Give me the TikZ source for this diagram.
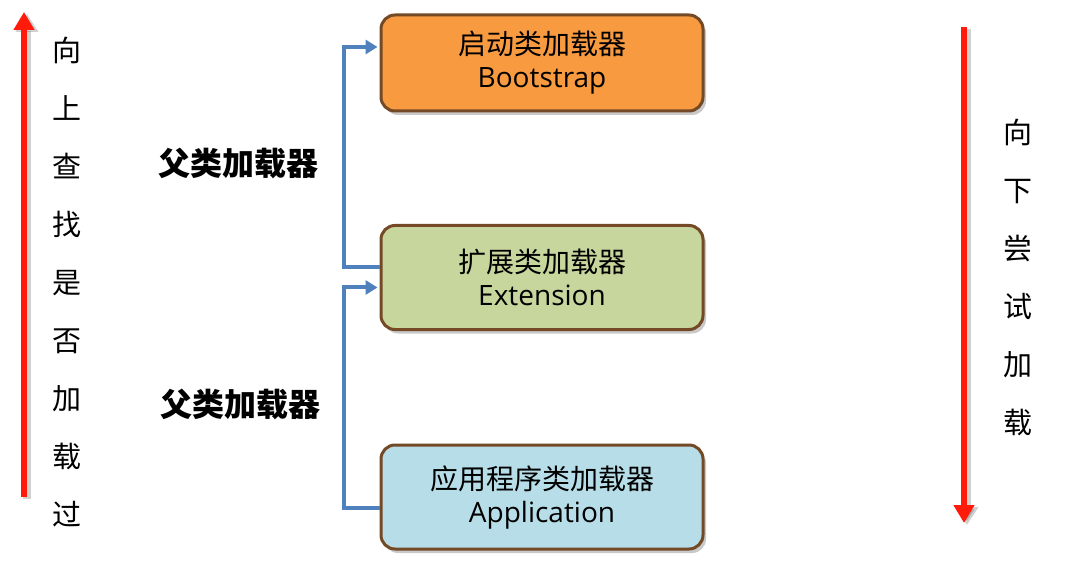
\documentclass[tikz,border=0pt]{standalone}
\usepackage{fontspec}
\setmainfont{Open Sans}
\newfontfamily\cjk{Noto Sans CJK SC}
\usetikzlibrary{arrows.meta,shadows}
\definecolor{bootfill}{HTML}{F79A40}
\definecolor{extfill}{HTML}{C6D69C}
\definecolor{appfill}{HTML}{B7DDE8}
\definecolor{boxborder}{HTML}{744A26}
\definecolor{connblue}{HTML}{4F81BD}
\definecolor{arrowred}{HTML}{FF1A0A}
\tikzset{
  loader/.style={draw=boxborder, line width=3pt, rounded corners=14pt,
    minimum width=322pt, minimum height=96pt, align=center,
    font=\fontsize{28}{33}\selectfont,
    drop shadow={shadow xshift=3pt, shadow yshift=-4pt, opacity=0.35, fill=black!60}},
  conn/.style={draw=connblue, line width=4pt, -{Triangle[length=12pt,width=14pt]}},
  redarrow/.style={draw=arrowred, line width=6pt, -{Triangle[length=18pt,width=20pt]}},
  redshadow/.style={draw=black, opacity=0.18, line width=8pt, -{Triangle[length=18pt,width=22pt]}},
  vtext/.style={align=center, font=\cjk\fontsize{29}{58}\selectfont},
  parentlabel/.style={font=\cjk\bfseries\fontsize{32}{36}\selectfont}
}
\begin{document}
\begin{tikzpicture}[x=1pt,y=-1pt]
\path[use as bounding box, fill=white] (0,0) rectangle (1084,561);

% boxes
\node[loader, fill=bootfill] (boot) at (542,63) {{\cjk 启动类加载器}\\Bootstrap};
\node[loader, fill=extfill, minimum height=104pt] (ext) at (542,277.5) {{\cjk 扩展类加载器}\\Extension};
\node[loader, fill=appfill, minimum height=104pt] (app) at (542,497) {{\cjk 应用程序类加载器}\\Application};

% connectors
\coordinate (c1) at (344,0);
\draw[conn] ([yshift=10pt]ext.west) -- ([yshift=10pt]ext.west -| c1) |- ([xshift=-2pt,yshift=16pt]boot.west);
\draw[conn] ([yshift=-11pt]app.west) -- ([yshift=-11pt]app.west -| c1) |- ([xshift=-2pt,yshift=-10pt]ext.west);

% parent labels
\node[parentlabel] (p1) at (238,163) {父类加载器};
\node[parentlabel] (p2) at (240,404) {父类加载器};

% red arrows
\coordinate (lb) at (24,497);
\coordinate (lt) at (24,12);
\coordinate (rt) at (964,27);
\coordinate (rb) at (964,523);
\draw[redshadow] ([xshift=3pt,yshift=-2pt]lb) -- ([xshift=3pt,yshift=-2pt]lt);
\draw[redshadow] ([xshift=3pt,yshift=-2pt]rt) -- ([xshift=3pt,yshift=-2pt]rb);
\draw[redarrow] (lb) -- (lt);
\draw[redarrow] (rt) -- (rb);

% vertical texts
\node[vtext] (up) at (67,282) {向\\上\\查\\找\\是\\否\\加\\载\\过};
\node[vtext] (down) at (1018,277) {向\\下\\尝\\试\\加\\载};
\end{tikzpicture}
\end{document}
